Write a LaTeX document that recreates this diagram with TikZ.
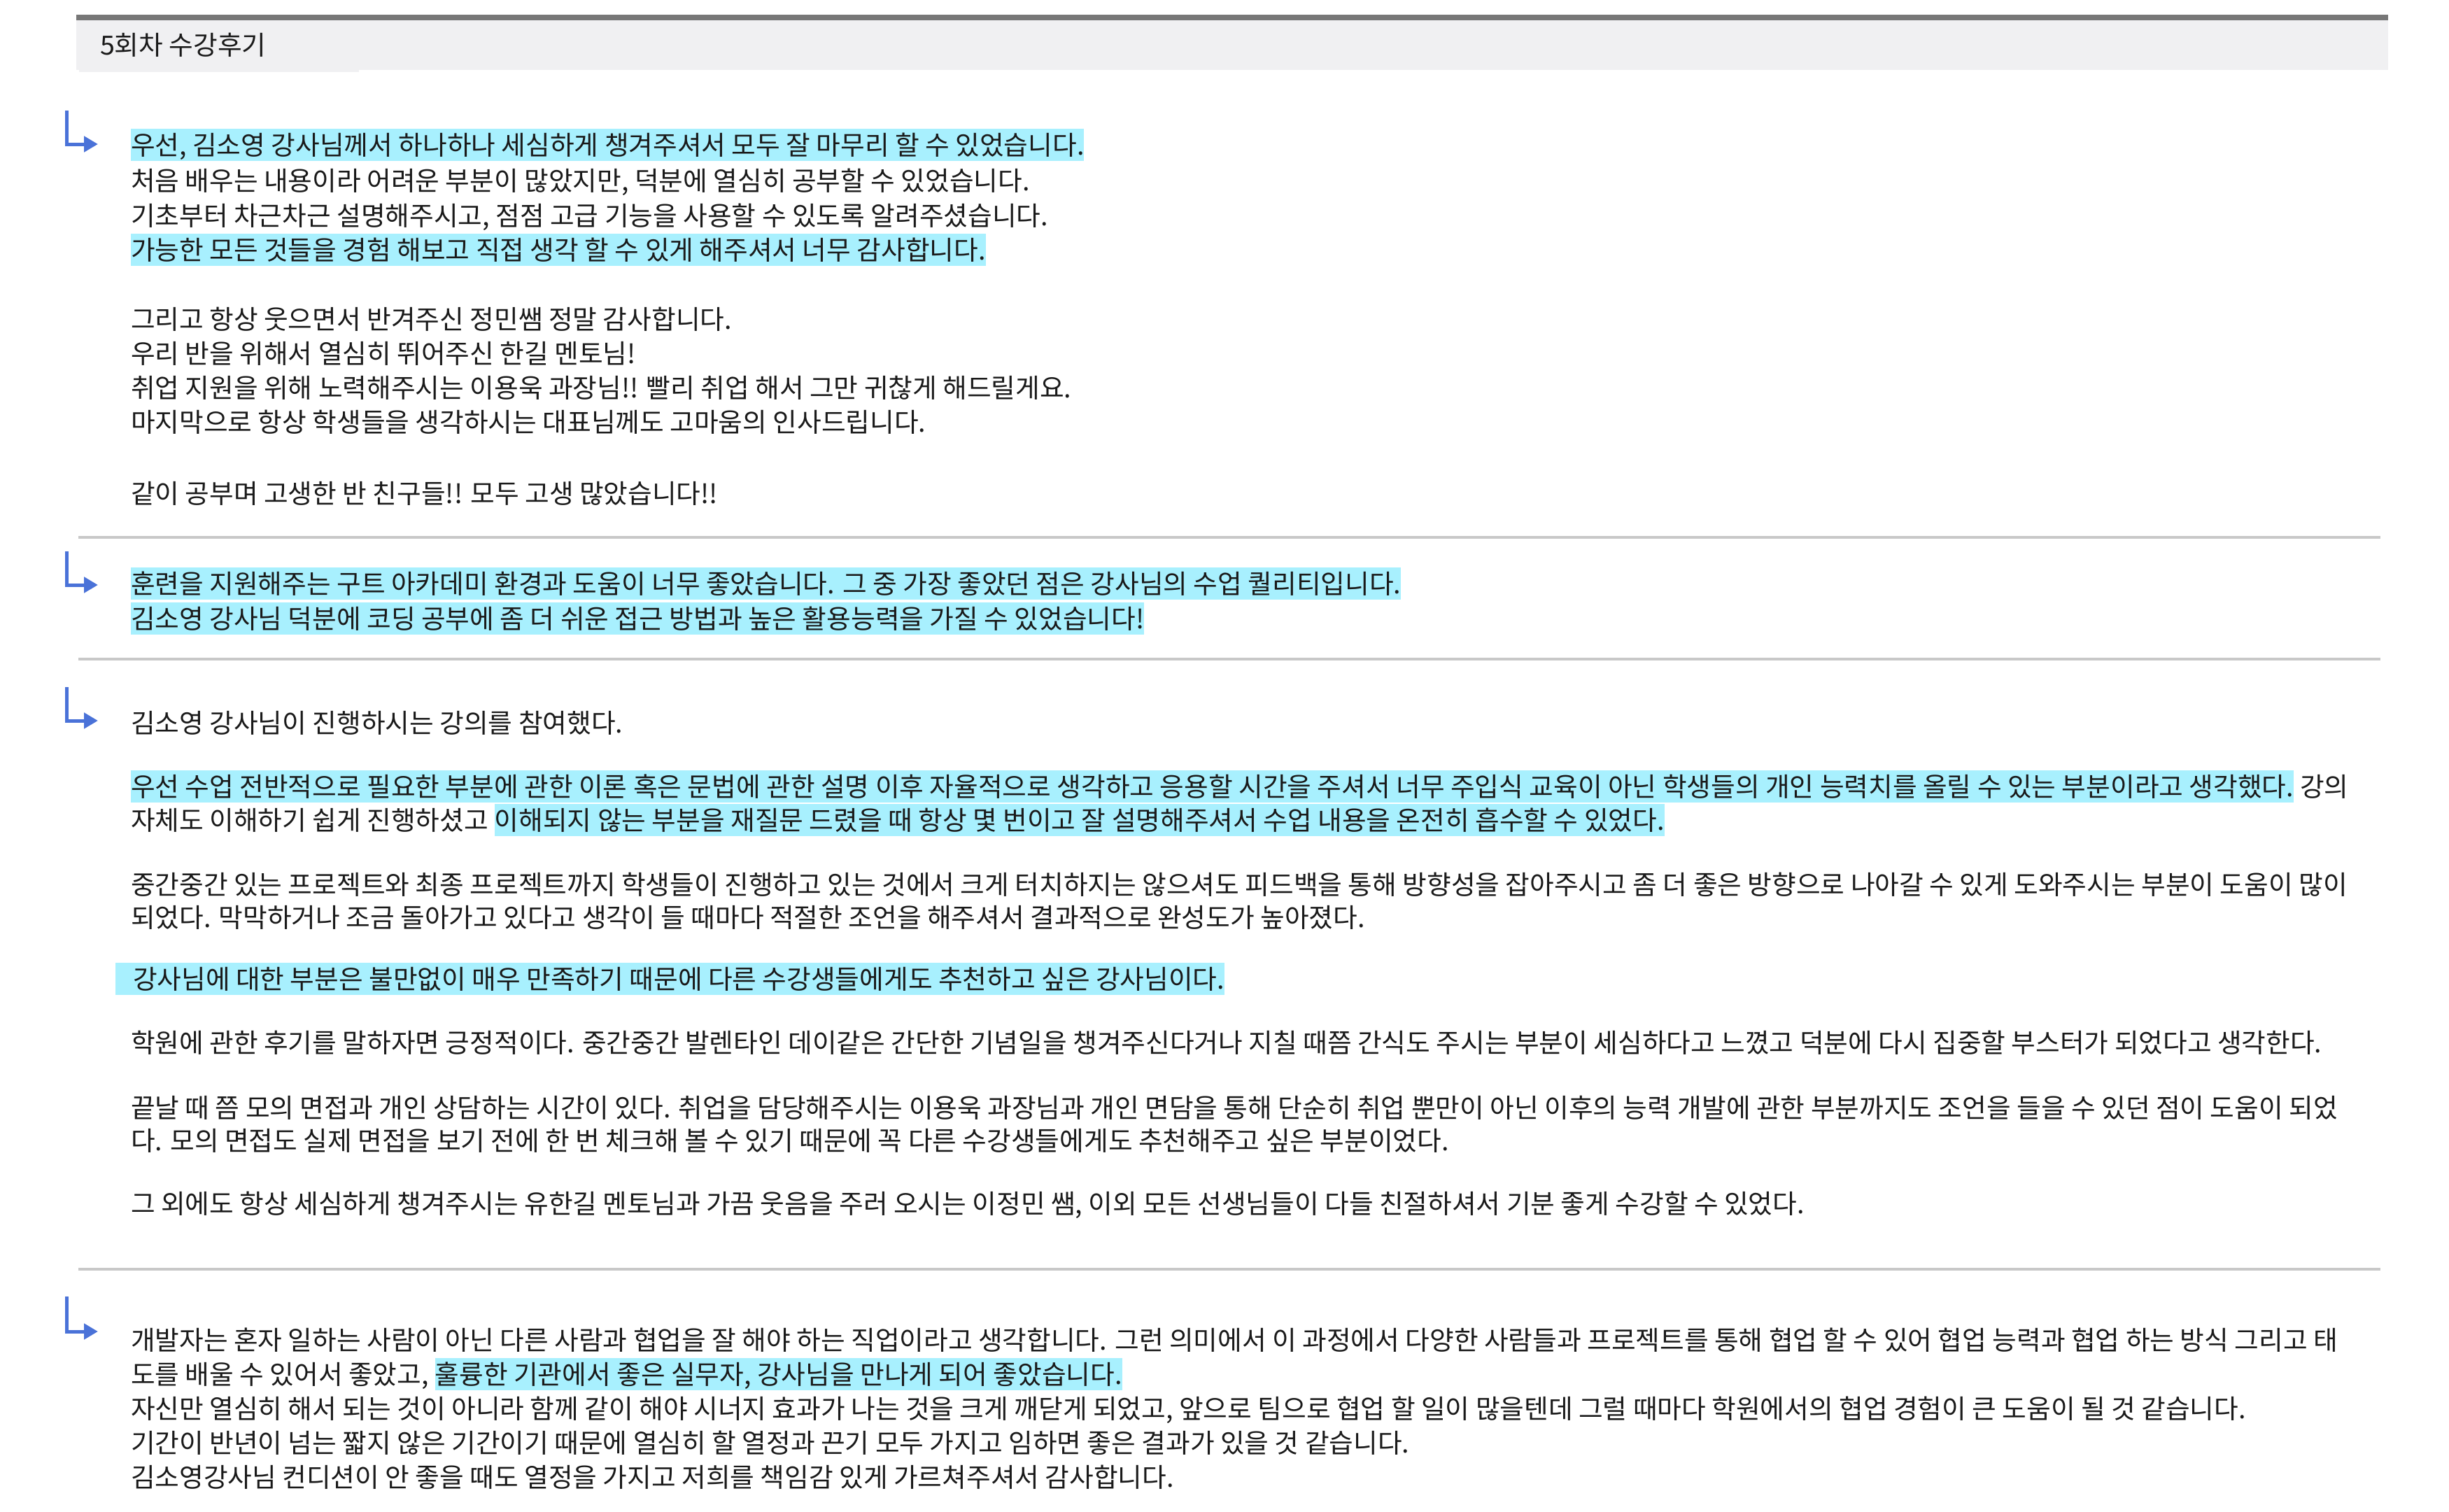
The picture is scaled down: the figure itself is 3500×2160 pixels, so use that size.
\documentclass[tikz,border=0pt]{standalone}
\usepackage{fontspec}
\newfontfamily\reviewfont{Noto Sans CJK KR}
\definecolor{hl}{HTML}{A8F0FE}
\definecolor{band}{HTML}{F0F0F2}
\definecolor{bar}{HTML}{777777}
\definecolor{rulegrey}{HTML}{C8C8C8}
\definecolor{ink}{HTML}{1A1A1A}
\definecolor{arrowblue}{HTML}{4A72D8}
\usetikzlibrary{arrows.meta}
\usetikzlibrary{positioning}
\tikzstyle{base}=[x=1pt, y=-1pt, inner sep=0pt, outer sep=0pt]
\tikzstyle{textline}=[anchor=west, text=ink, text height=1.0em, text depth=0.22em]
\tikzstyle{marked}=[textline, fill=hl]
\tikzstyle{turn}=[arrowblue, line width=5pt, -{Triangle[length=20pt,width=22pt]}]
\tikzstyle{separator}=[rulegrey, line width=4pt]
\begin{document}
\begin{tikzpicture}[base]
    \reviewfont \fontsize{37.7}{48}\selectfont
        \fill [white] (0,0) rectangle (3500,2160);
        \fill [band] (109,29) rectangle (3413,100);
        \fill [band] (113,100) rectangle (513,103);
        \fill [bar] (109,21) rectangle (3413,29);
        \node [textline] (title) at (143,64) {5회차 수강후기};

        \coordinate (t1) at (95,158);
        \coordinate (h1) at (140,206);
        \draw [turn] (t1) |- (h1);
        \node [marked] (p1a) at (187,207) {우선, 김소영 강사님께서 하나하나 세심하게 챙겨주셔서 모두 잘 마무리 할 수 있었습니다.};
        \node [textline] (p1b) at (187,258) {처음 배우는 내용이라 어려운 부분이 많았지만, 덕분에 열심히 공부할 수 있었습니다.};
        \node [textline] (p1c) at (187,308) {기초부터 차근차근 설명해주시고, 점점 고급 기능을 사용할 수 있도록 알려주셨습니다.};
        \node [marked] (p1d) at (187,357) {가능한 모든 것들을 경험 해보고 직접 생각 할 수 있게 해주셔서 너무 감사합니다.};
        \node [textline] (p1e) at (187,456) {그리고 항상 웃으면서 반겨주신 정민쌤 정말 감사합니다.};
        \node [textline] (p1f) at (187,505) {우리 반을 위해서 열심히 뛰어주신 한길 멘토님!};
        \node [textline] (p1g) at (187,554) {취업 지원을 위해 노력해주시는 이용욱 과장님!! 빨리 취업 해서 그만 귀찮게 해드릴게요.};
        \node [textline] (p1h) at (187,603) {마지막으로 항상 학생들을 생각하시는 대표님께도 고마움의 인사드립니다.};
        \node [textline] (p1i) at (187,705) {같이 공부며 고생한 반 친구들!! 모두 고생 많았습니다!!};
        \draw [separator] (112,768) -- (3402,768);

        \coordinate (t2) at (95,788);
        \coordinate (h2) at (140,836);
        \draw [turn] (t2) |- (h2);
        \node [marked] (p2a) at (187,834) {훈련을 지원해주는 구트 아카데미 환경과 도움이 너무 좋았습니다. 그 중 가장 좋았던 점은 강사님의 수업 퀄리티입니다.};
        \node [marked] (p2b) at (187,884) {김소영 강사님 덕분에 코딩 공부에 좀 더 쉬운 접근 방법과 높은 활용능력을 가질 수 있었습니다!};
        \draw [separator] (112,942) -- (3402,942);

        \coordinate (t3) at (95,982);
        \coordinate (h3) at (140,1030);
        \draw [turn] (t3) |- (h3);
        \node [textline] (p3a) at (187,1033) {김소영 강사님이 진행하시는 강의를 참여했다.};
        \node [marked] (p3b) at (187,1124) {우선 수업 전반적으로 필요한 부분에 관한 이론 혹은 문법에 관한 설명 이후 자율적으로 생각하고 응용할 시간을 주셔서 너무 주입식 교육이 아닌 학생들의 개인 능력치를 올릴 수 있는 부분이라고 생각했다.};
        \node [textline, right=9pt of p3b] (p3c) {강의};
        \node [textline] (p3d) at (187,1172) {자체도 이해하기 쉽게 진행하셨고};
        \node [marked, right=9pt of p3d] (p3e) {이해되지 않는 부분을 재질문 드렸을 때 항상 몇 번이고 잘 설명해주셔서 수업 내용을 온전히 흡수할 수 있었다.};
        \node [textline] (p3f) at (187,1264) {중간중간 있는 프로젝트와 최종 프로젝트까지 학생들이 진행하고 있는 것에서 크게 터치하지는 않으셔도 피드백을 통해 방향성을 잡아주시고 좀 더 좋은 방향으로 나아갈 수 있게 도와주시는 부분이 도움이 많이};
        \node [textline] (p3g) at (187,1311) {되었다. 막막하거나 조금 돌아가고 있다고 생각이 들 때마다 적절한 조언을 해주셔서 결과적으로 완성도가 높아졌다.};
        \node [marked] (p3h) at (165,1399) {\hspace*{25pt}강사님에 대한 부분은 불만없이 매우 만족하기 때문에 다른 수강생들에게도 추천하고 싶은 강사님이다.};
        \node [textline] (p3i) at (187,1490) {학원에 관한 후기를 말하자면 긍정적이다. 중간중간 발렌타인 데이같은 간단한 기념일을 챙겨주신다거나 지칠 때쯤 간식도 주시는 부분이 세심하다고 느꼈고 덕분에 다시 집중할 부스터가 되었다고 생각한다.};
        \node [textline] (p3j) at (187,1583) {끝날 때 쯤 모의 면접과 개인 상담하는 시간이 있다. 취업을 담당해주시는 이용욱 과장님과 개인 면담을 통해 단순히 취업 뿐만이 아닌 이후의 능력 개발에 관한 부분까지도 조언을 들을 수 있던 점이 도움이 되었};
        \node [textline] (p3k) at (187,1630) {다. 모의 면접도 실제 면접을 보기 전에 한 번 체크해 볼 수 있기 때문에 꼭 다른 수강생들에게도 추천해주고 싶은 부분이었다.};
        \node [textline] (p3l) at (187,1720) {그 외에도 항상 세심하게 챙겨주시는 유한길 멘토님과 가끔 웃음을 주러 오시는 이정민 쌤, 이외 모든 선생님들이 다들 친절하셔서 기분 좋게 수강할 수 있었다.};
        \draw [separator] (112,1814) -- (3402,1814);

        \coordinate (t4) at (95,1853);
        \coordinate (h4) at (140,1903);
        \draw [turn] (t4) |- (h4);
        \node [textline] (p4a) at (187,1915) {개발자는 혼자 일하는 사람이 아닌 다른 사람과 협업을 잘 해야 하는 직업이라고 생각합니다. 그런 의미에서 이 과정에서 다양한 사람들과 프로젝트를 통해 협업 할 수 있어 협업 능력과 협업 하는 방식 그리고 태};
        \node [textline] (p4b) at (187,1964) {도를 배울 수 있어서 좋았고,};
        \node [marked, right=9pt of p4b] (p4c) {훌륭한 기관에서 좋은 실무자, 강사님을 만나게 되어 좋았습니다.};
        \node [textline] (p4d) at (187,2013) {자신만 열심히 해서 되는 것이 아니라 함께 같이 해야 시너지 효과가 나는 것을 크게 깨닫게 되었고, 앞으로 팀으로 협업 할 일이 많을텐데 그럴 때마다 학원에서의 협업 경험이 큰 도움이 될 것 같습니다.};
        \node [textline] (p4e) at (187,2062) {기간이 반년이 넘는 짧지 않은 기간이기 때문에 열심히 할 열정과 끈기 모두 가지고 임하면 좋은 결과가 있을 것 같습니다.};
        \node [textline] (p4f) at (187,2111) {김소영강사님 컨디션이 안 좋을 때도 열정을 가지고 저희를 책임감 있게 가르쳐주셔서 감사합니다.};
        \path [use as bounding box] (0,0) rectangle (3500,2160);
    \end{tikzpicture}
\end{document}
